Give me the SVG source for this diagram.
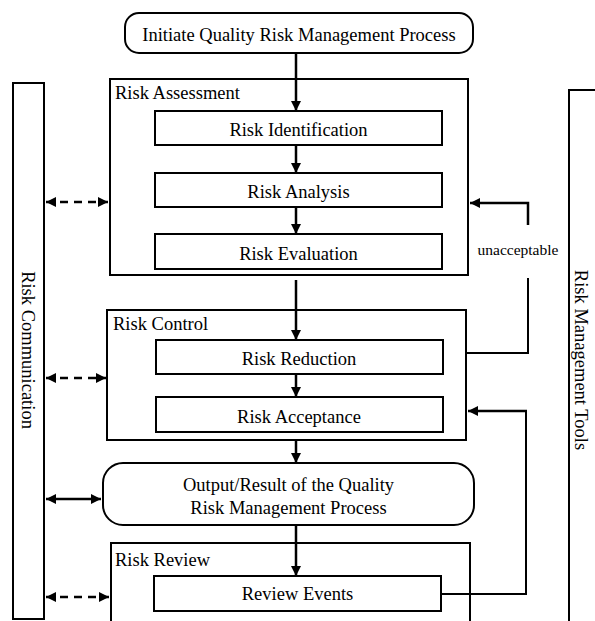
<svg xmlns="http://www.w3.org/2000/svg" width="595" height="621" viewBox="0 0 595 621">
<defs>
<style>
.box{fill:#fff;stroke:#000;stroke-width:2}
.t{font-family:"Liberation Serif","Times New Roman",serif;font-size:18.5px;fill:#000}
.c{text-anchor:middle}
.s{font-size:15.5px}
.ln{fill:none;stroke:#000;stroke-width:2.5}
.dash{stroke-dasharray:8 6}
</style>
<marker id="ah" viewBox="0 0 10 10" refX="10" refY="5" markerWidth="10" markerHeight="10" markerUnits="userSpaceOnUse" orient="auto-start-reverse">
<path d="M0,0 L10,5 L0,10 z" fill="#000"/>
</marker>
</defs>
<rect width="595" height="621" fill="#fff"/>

<g id="risk-communication">
<rect class="box" x="13" y="83" width="31" height="536"/>
<text class="t c" transform="translate(28,350) rotate(90)" x="0" y="6">Risk Communication</text>
</g>
<g id="risk-management-tools">
<rect class="box" x="569" y="90" width="40" height="545"/>
<text class="t c" transform="translate(581,360) rotate(90)" x="0" y="6">Risk Management Tools</text>
</g>

<g id="initiate">
<rect class="box" x="125" y="13" width="348" height="40" rx="14"/>
<text class="t c" x="299" y="41">Initiate Quality Risk Management Process</text>
</g>

<g id="risk-assessment">
<rect class="box" x="110" y="79" width="358" height="196"/>
<text class="t" x="115" y="99">Risk Assessment</text>
</g>
<g id="risk-identification">
<rect class="box" x="155" y="111" width="287" height="34"/>
<text class="t c" x="298.5" y="136">Risk Identification</text>
</g>
<g id="risk-analysis">
<rect class="box" x="155" y="173" width="287" height="34"/>
<text class="t c" x="298.5" y="198">Risk Analysis</text>
</g>
<g id="risk-evaluation">
<rect class="box" x="155" y="234" width="287" height="35"/>
<text class="t c" x="298.5" y="260">Risk Evaluation</text>
</g>

<g id="risk-control">
<rect class="box" x="107" y="310" width="359" height="130"/>
<text class="t" x="113" y="330">Risk Control</text>
</g>
<g id="risk-reduction">
<rect class="box" x="156" y="340" width="287" height="34"/>
<text class="t c" x="299" y="365">Risk Reduction</text>
</g>
<g id="risk-acceptance">
<rect class="box" x="156" y="397" width="287" height="35"/>
<text class="t c" x="299" y="423">Risk Acceptance</text>
</g>

<g id="output">
<rect class="box" x="103" y="463" width="371" height="62" rx="20"/>
<text class="t c" x="288.5" y="491">Output/Result of the Quality</text>
<text class="t c" x="288.5" y="514">Risk Management Process</text>
</g>

<g id="risk-review">
<rect class="box" x="111" y="543" width="359" height="100"/>
<text class="t" x="115" y="566">Risk Review</text>
</g>
<g id="review-events">
<rect class="box" x="154" y="576" width="287" height="35"/>
<text class="t c" x="297.5" y="600">Review Events</text>
</g>

<g id="connectors">
<line class="ln" x1="296" y1="53" x2="296" y2="111" marker-end="url(#ah)"/>
<line class="ln" x1="296" y1="145" x2="296" y2="173" marker-end="url(#ah)"/>
<line class="ln" x1="296" y1="207" x2="296" y2="234" marker-end="url(#ah)"/>
<line class="ln" x1="296" y1="280" x2="296" y2="340" marker-end="url(#ah)"/>
<line class="ln" x1="296" y1="374" x2="296" y2="397" marker-end="url(#ah)"/>
<line class="ln" x1="296" y1="440" x2="296" y2="463" marker-end="url(#ah)"/>
<line class="ln" x1="296" y1="525" x2="296" y2="576" marker-end="url(#ah)"/>

<line class="ln dash" x1="46" y1="202" x2="108" y2="202" marker-start="url(#ah)" marker-end="url(#ah)"/>
<line class="ln dash" x1="46" y1="378" x2="106" y2="378" marker-start="url(#ah)" marker-end="url(#ah)"/>
<line class="ln" x1="46" y1="499" x2="101" y2="499" marker-start="url(#ah)" marker-end="url(#ah)"/>
<line class="ln dash" x1="46" y1="597" x2="109" y2="597" marker-start="url(#ah)" marker-end="url(#ah)"/>

<polyline class="ln" style="stroke-width:2" points="466,353 528,353 528,278"/>
<polyline class="ln" points="528,225 528,203 470,203" marker-end="url(#ah)"/>
<polyline class="ln" style="stroke-width:2" points="441,594 526,594 526,411"/>
<line class="ln" x1="527" y1="411" x2="468" y2="411" marker-end="url(#ah)"/>
<text class="t c s" x="518" y="255">unacceptable</text>
</g>
</svg>
